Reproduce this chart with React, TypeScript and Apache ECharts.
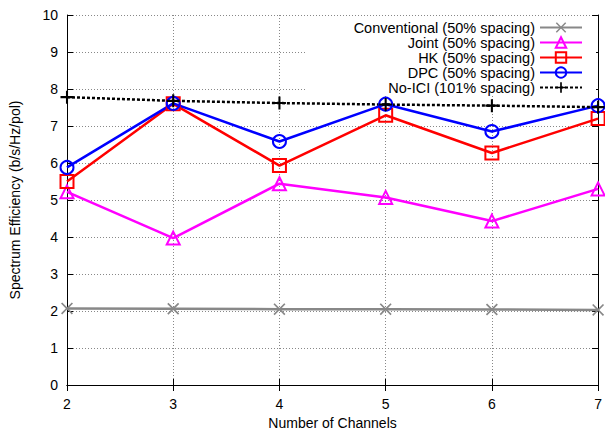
import React, { useEffect, useRef } from "react";
import * as echarts from "echarts";

const xValues = [2, 3, 4, 5, 6, 7];
const conventional = [2.07, 2.06, 2.05, 2.05, 2.04, 2.03];
const joint = [5.22, 3.97, 5.44, 5.07, 4.43, 5.3];
const hk = [5.5, 7.6, 5.93, 7.29, 6.27, 7.2];
const dpc = [5.88, 7.61, 6.58, 7.59, 6.85, 7.55];
const noIci = [7.78, 7.68, 7.62, 7.58, 7.55, 7.51];
const seriesNames = [
  "Conventional (50% spacing)",
  "Joint (50% spacing)",
  "HK (50% spacing)",
  "DPC (50% spacing)",
  "No-ICI (101% spacing)",
];

const FONT = "Liberation Sans, Arial, sans-serif";
const X_SYMBOL = "path://M1,0L5,4L9,0L10,1L6,5L10,9L9,10L5,6L1,10L0,9L4,5L0,1Z";
const PLUS_SYMBOL = "path://M4.2,0H5.8V4.2H10V5.8H5.8V10H4.2V5.8H0V4.2H4.2Z";

function pairs(vals: number[]) {
  return xValues.map((x, i) => [x, vals[i]]);
}

export default function App() {
  const ref = useRef<HTMLDivElement>(null);
  useEffect(() => {
    document.body.style.margin = "0";
    if (!ref.current) return;
    const chart = echarts.init(ref.current, undefined, { renderer: "svg" });
    const axisCommon = {
      axisLine: { show: true, lineStyle: { color: "#000", width: 1 } },
      axisTick: { show: true, inside: true, length: 6, lineStyle: { color: "#000" } },
    };
    const legendCenters = [27, 42, 57, 72, 87];
    chart.setOption({
      animation: false,
      textStyle: { fontFamily: FONT },
      grid: { left: 67, right: 2, top: 15, bottom: 50, containLabel: false },
      graphic: [
        {
          type: "rect",
          z: 3,
          shape: { x: 305, y: 17, width: 291, height: 77 },
          style: { fill: "#fff" },
          silent: true,
        },
      ],
      legend: seriesNames.map((name, i) => ({
        data: [name],
        orient: "vertical",
        align: "right",
        right: 22,
        top: legendCenters[i] - 7,
        padding: 0,
        itemWidth: 42,
        itemHeight: 13,
        selectedMode: false,
        textStyle: { fontSize: 14.5, lineHeight: 14, color: "#000", fontFamily: FONT },
      })),
      xAxis: [
        {
          type: "value",
          min: 2,
          max: 7,
          interval: 1,
          name: "Number of Channels",
          nameLocation: "middle",
          nameGap: 29,
          nameTextStyle: { fontSize: 14, color: "#000" },
          ...axisCommon,
          axisLabel: { fontSize: 14, color: "#000", margin: 12, showMaxLabel: true },
          splitLine: { show: true, lineStyle: { color: "#888", type: [1, 2], width: 1 } },
        },
        {
          type: "value",
          position: "top",
          min: 2,
          max: 7,
          interval: 1,
          ...axisCommon,
          axisLabel: { show: false },
          splitLine: { show: false },
        },
      ],
      yAxis: [
        {
          type: "value",
          min: 0,
          max: 10,
          interval: 1,
          name: "Spectrum Efficiency (b/s/Hz/pol)",
          nameLocation: "middle",
          nameGap: 45,
          nameTextStyle: { fontSize: 14, color: "#000" },
          ...axisCommon,
          axisLabel: { fontSize: 14, color: "#000", margin: 9 },
          splitLine: { show: true, lineStyle: { color: "#888", type: [1, 2], width: 1 } },
        },
        {
          type: "value",
          position: "right",
          min: 0,
          max: 10,
          interval: 1,
          ...axisCommon,
          axisLabel: { show: false },
          splitLine: { show: false },
        },
      ],
      series: [
        {
          name: seriesNames[0],
          type: "line",
          data: pairs(conventional),
          symbol: X_SYMBOL,
          symbolSize: 12,
          lineStyle: { color: "#888", width: 2.5 },
          itemStyle: { color: "#888" },
        },
        {
          name: seriesNames[1],
          type: "line",
          data: pairs(joint),
          symbol: "triangle",
          symbolSize: 13,
          lineStyle: { color: "#ff00ff", width: 2.5 },
          itemStyle: { color: "rgba(0,0,0,0)", borderColor: "#ff00ff", borderWidth: 2 },
        },
        {
          name: seriesNames[2],
          type: "line",
          data: pairs(hk),
          symbol: "rect",
          symbolSize: 13,
          lineStyle: { color: "#ff0000", width: 2.5 },
          itemStyle: { color: "rgba(0,0,0,0)", borderColor: "#ff0000", borderWidth: 2 },
        },
        {
          name: seriesNames[3],
          type: "line",
          data: pairs(dpc),
          symbol: "circle",
          symbolSize: 13,
          lineStyle: { color: "#0000ff", width: 2.5 },
          itemStyle: { color: "rgba(0,0,0,0)", borderColor: "#0000ff", borderWidth: 2 },
        },
        {
          name: seriesNames[4],
          type: "line",
          data: pairs(noIci),
          symbol: PLUS_SYMBOL,
          symbolSize: 13,
          lineStyle: { color: "#000", width: 2.5, type: [3, 2] },
          itemStyle: { color: "#000" },
        },
      ],
    });
    return () => chart.dispose();
  }, []);
  return <div ref={ref} style={{ width: 605, height: 435 }} />;
}
